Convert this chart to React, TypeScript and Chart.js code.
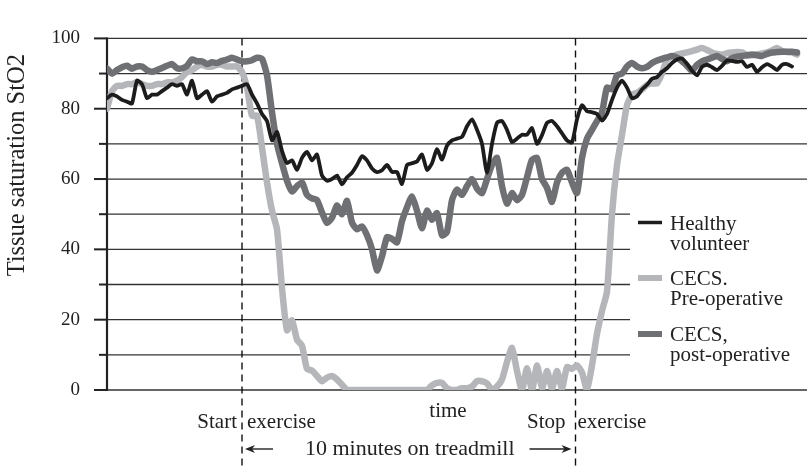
import React, { useEffect, useRef } from 'react';
import { Chart, registerables } from 'chart.js';

Chart.register(...registerables);

// Samples every time step (one step = 5 px of the original picture)
const HEALTHY = [
  83, 84, 83.5, 82.5, 82, 81.5, 88, 87, 83, 84, 84, 85, 86, 87, 86.5, 87, 84, 88, 83, 84,
  85, 82, 83.5, 84, 84.5, 85.5, 86, 86.5, 87, 84, 81.5, 78.5, 76.5, 71, 73.4, 68, 64.5, 65.3, 62.6, 66,
  67.7, 65.3, 67, 61, 59.5, 60, 61, 58.5, 60.5, 61.8, 64, 66.5, 65.3, 63, 62, 62.5, 64, 62, 62, 58.6,
  64, 64.5, 65, 67, 62.6, 64.5, 68.5, 65.5, 69.5, 71, 71.5, 72, 75, 77, 74, 70, 61.8, 70, 76, 76.5,
  74, 70.5, 71.5, 72.6, 72.6, 74.5, 70, 72.5, 76, 76.5, 75, 73, 71, 70.4, 77, 81, 79.3, 79, 78.5, 76.6,
  78.5, 82.5, 86, 88, 86, 83, 83.5, 85.5, 86.8, 88.5, 89, 90.5, 91.5, 93, 94, 94.3, 92.8, 90.8, 89.5, 91.9,
  92.5, 91.8, 91, 92.2, 93.7, 93.6, 93.3, 93.5, 91.9, 92.5, 90.5, 91.8, 92.7, 92, 91, 92.5, 92.7, 92,
];

const PRE_OP = [
  80, 85, 86.5, 86.5, 87, 87, 87.5, 87, 86.5, 86.5, 87, 87, 87.5, 87.5, 88, 89, 90.5, 91, 92, 92.5,
  92, 92, 92.5, 92.5, 92, 92, 92, 90.5, 86, 78, 78, 69, 59, 51, 45.7, 29, 17, 19.8, 14.3, 12.6,
  6, 5.5, 4, 2.5, 3.5, 4, 3, 1.5, 0, 0, 0, 0, 0, 0, 0, 0, 0, 0, 0, 0,
  0, 0, 0, 0, 0, 1.3, 2, 2, 0.5, 0, 0, 0.5, 0.5, 1, 2.5, 2.5, 1.9, 0, 1, 3,
  8, 12, 5.4, 0, 6.2, 0, 7, 0.5, 5.4, 0.5, 5.4, 0.5, 6.5, 6, 7, 5, 0, 7, 16, 22.5,
  28, 50, 64, 72.6, 81, 84, 84.5, 85.5, 86.8, 87.2, 87.2, 90, 94, 94.8, 95.4, 95.7, 96, 96.4, 96.8, 97.3,
  96.7, 96, 95.6, 95.4, 95.8, 96, 96.1, 96, 95.2, 95.2, 95.4, 95.7, 96, 96.6, 97.3, 96.4, 96.1, 96, 95.4,
];

const POST_OP = [
  91.4, 90, 91, 91.8, 92.2, 91.4, 92, 92, 91, 90.5, 91, 91.6, 92.2, 92.7, 91.5, 91.5, 92.2, 94, 93.5, 93.5,
  92.7, 93.2, 93, 93.6, 94, 94.5, 94, 93.5, 93.5, 93.8, 94.5, 94.2, 89.5, 79, 70, 64.5, 59.5, 56.5, 58, 59,
  55.5, 54.5, 54, 50.5, 47.5, 49, 52.5, 50, 53.8, 47.6, 45.7, 46.5, 44, 40, 34, 38, 43.5, 43, 42, 48,
  52, 55, 51, 46, 51, 48.4, 50.3, 44, 45, 54, 57, 55.5, 58, 60, 57.3, 56, 60, 64, 66, 58,
  53, 56, 54, 55.5, 60.5, 65.5, 66, 60, 57.5, 53.5, 59, 61.8, 62.6, 59, 56, 66, 71.5, 74, 76.5, 79,
  86, 85.5, 89.5, 90, 92, 93, 92, 91.5, 91.9, 93, 93.7, 94.2, 94.6, 95, 94.5, 93.5, 92.2, 90.8, 92.5, 93.5,
  94, 94.5, 95, 94.2, 93.5, 94.4, 94.8, 95, 95.2, 95.4, 95.2, 95, 95.6, 96, 96.1, 96.2, 96.2, 96.2, 96,
];

const SERIES_NAMES = ['Healthy volunteer', 'CECS. Pre-operative', 'CECS, post-operative'];
const LEGEND_LINES = [
  ['Healthy', 'volunteer'],
  ['CECS.', 'Pre-operative'],
  ['CECS,', 'post-operative'],
];
const Y_LABELED = [0, 20, 40, 60, 80, 100];
const GRID_VALUES = [0, 10, 20, 30, 40, 50, 60, 70, 80, 90, 100];
const START_T = 27;
const STOP_T = 93.7;
const X_MAX = 140;

const Y_TITLE = 'Tissue saturation StO2';
const START_WORDS = ['Start', 'exercise'];
const STOP_WORDS = ['Stop', 'exercise'];
const TIME_LABEL = 'time';
const DURATION_LABEL = '10 minutes on treadmill';

const FONT = '"Liberation Serif", "DejaVu Serif", serif';
const INK = '#222222';
const GRID = '#333333';
const C_HEALTHY = '#1c1c1c';
const C_PRE = '#b5b6b9';
const C_POST = '#6f7073';

const toPoints = (arr: number[]) => arr.map((v, i) => ({ x: i, y: v }));

const decor = {
  id: 'decor',
  beforeDatasetsDraw(chart: any) {
    const { ctx, chartArea, scales } = chart;
    const x = scales.x;
    const y = scales.y;
    ctx.save();
    // horizontal grid lines
    ctx.strokeStyle = GRID;
    ctx.lineWidth = 1.3;
    const shortRight = x.getPixelForValue(104.6);
    GRID_VALUES.forEach((v) => {
      const py = y.getPixelForValue(v);
      const right = v > 0 && v < 60 ? shortRight : chartArea.right;
      ctx.beginPath();
      ctx.moveTo(chartArea.left, py);
      ctx.lineTo(right, py);
      ctx.stroke();
    });
    // tick marks
    ctx.strokeStyle = INK;
    ctx.lineWidth = 2;
    GRID_VALUES.forEach((v) => {
      const py = y.getPixelForValue(v);
      const len = Y_LABELED.includes(v) ? 13 : 8;
      ctx.beginPath();
      ctx.moveTo(chartArea.left - len, py);
      ctx.lineTo(chartArea.left, py);
      ctx.stroke();
    });
    // axis line
    ctx.lineWidth = 2.2;
    ctx.beginPath();
    ctx.moveTo(chartArea.left, y.getPixelForValue(100) - 1);
    ctx.lineTo(chartArea.left, y.getPixelForValue(0) + 1);
    ctx.stroke();
    // dashed event lines
    ctx.setLineDash([7, 5]);
    ctx.lineWidth = 1.4;
    ctx.strokeStyle = '#111';
    [START_T, STOP_T].forEach((t) => {
      const px = x.getPixelForValue(t);
      ctx.beginPath();
      ctx.moveTo(px, chartArea.top);
      ctx.lineTo(px, chart.height);
      ctx.stroke();
    });
    ctx.restore();
  },
  afterDraw(chart: any) {
    const { ctx, chartArea, scales } = chart;
    const x = scales.x;
    const y = scales.y;
    const sx = x.getPixelForValue(START_T);
    const ex = x.getPixelForValue(STOP_T);
    const base = y.getPixelForValue(0);
    ctx.save();
    ctx.fillStyle = INK;
    ctx.textBaseline = 'alphabetic';

    // y title
    ctx.save();
    ctx.font = `24.5px ${FONT}`;
    ctx.translate(24, (chartArea.top + chartArea.bottom) / 2 - 49);
    ctx.rotate(-Math.PI / 2);
    ctx.textAlign = 'center';
    ctx.fillText(Y_TITLE, 0, 0);
    ctx.restore();

    ctx.font = `21px ${FONT}`;
    // Start exercise
    ctx.textAlign = 'right';
    ctx.fillText(START_WORDS[0], sx - 5, base + 38);
    ctx.textAlign = 'left';
    ctx.fillText(START_WORDS[1], sx + 5, base + 38);
    // Stop exercise
    ctx.textAlign = 'right';
    ctx.fillText(STOP_WORDS[0], ex - 10, base + 38);
    ctx.textAlign = 'left';
    ctx.fillText(STOP_WORDS[1], ex + 2, base + 38);
    // time
    ctx.textAlign = 'center';
    ctx.fillText(TIME_LABEL, 448, base + 27);
    // duration
    ctx.font = `22px ${FONT}`;
    ctx.fillText(DURATION_LABEL, (sx + ex) / 2 + 1, base + 65);

    // arrows
    const ay = base + 59;
    const arrow = (from: number, to: number) => {
      const dir = Math.sign(to - from);
      ctx.strokeStyle = INK;
      ctx.lineWidth = 1.4;
      ctx.beginPath();
      ctx.moveTo(from, ay);
      ctx.lineTo(to - dir * 6, ay);
      ctx.stroke();
      ctx.beginPath();
      ctx.moveTo(to, ay);
      ctx.lineTo(to - dir * 10, ay - 4);
      ctx.lineTo(to - dir * 7, ay);
      ctx.lineTo(to - dir * 10, ay + 4);
      ctx.closePath();
      ctx.fill();
    };
    arrow(sx + 31, sx + 3);
    arrow(ex - 46, ex - 4);

    // legend
    const lx = chartArea.right - 169;
    const colors = [C_HEALTHY, C_PRE, C_POST];
    const widths = [3.5, 6, 6];
    const sampleY = [222.5, 278, 334];
    ctx.font = `21px ${FONT}`;
    ctx.textAlign = 'left';
    LEGEND_LINES.forEach((lines, i) => {
      ctx.strokeStyle = colors[i];
      ctx.lineWidth = widths[i];
      ctx.beginPath();
      ctx.moveTo(lx, sampleY[i]);
      ctx.lineTo(lx + 24, sampleY[i]);
      ctx.stroke();
      ctx.fillStyle = INK;
      ctx.fillText(lines[0], lx + 32, sampleY[i] + 7);
      ctx.fillText(lines[1], lx + 32, sampleY[i] + 27);
    });
    ctx.restore();
  },
};

export default function App() {
  const ref = useRef<HTMLCanvasElement | null>(null);
  useEffect(() => {
    if (!ref.current) return;
    const chart = new Chart(ref.current, {
      type: 'line',
      data: {
        datasets: [
          {
            label: SERIES_NAMES[0],
            data: toPoints(HEALTHY),
            borderColor: C_HEALTHY,
            borderWidth: 3.8,
            order: 0,
          },
          {
            label: SERIES_NAMES[1],
            data: toPoints(PRE_OP),
            borderColor: C_PRE,
            borderWidth: 6.5,
            order: 2,
          },
          {
            label: SERIES_NAMES[2],
            data: toPoints(POST_OP),
            borderColor: C_POST,
            borderWidth: 6.5,
            order: 1,
          },
        ].map((d) => ({
          ...d,
          pointRadius: 0,
          tension: 0.2,
          fill: false,
          borderJoinStyle: 'round' as const,
          borderCapStyle: 'round' as const,
        })),
      },
      options: {
        responsive: false,
        animation: false,
        devicePixelRatio: 1,
        layout: { padding: { top: 18, bottom: 80, left: 0, right: 0 } },
        plugins: { legend: { display: false }, tooltip: { enabled: false } },
        scales: {
          x: { type: 'linear', min: 0, max: X_MAX, display: false },
          y: {
            type: 'linear',
            min: 0,
            max: 100,
            afterFit: (scale: any) => {
              scale.width = 107;
            },
            grid: { display: false, drawTicks: false },
            border: { display: false },
            ticks: {
              stepSize: 20,
              padding: 27,
              color: INK,
              font: { family: FONT, size: 19 },
            },
          },
        },
      },
      plugins: [decor],
    });
    return () => chart.destroy();
  }, []);
  return (
    <div style={{ position: 'absolute', left: 0, top: 0, width: 807, height: 470, background: '#fff' }}>
      <canvas ref={ref} width={807} height={470} />
    </div>
  );
}
